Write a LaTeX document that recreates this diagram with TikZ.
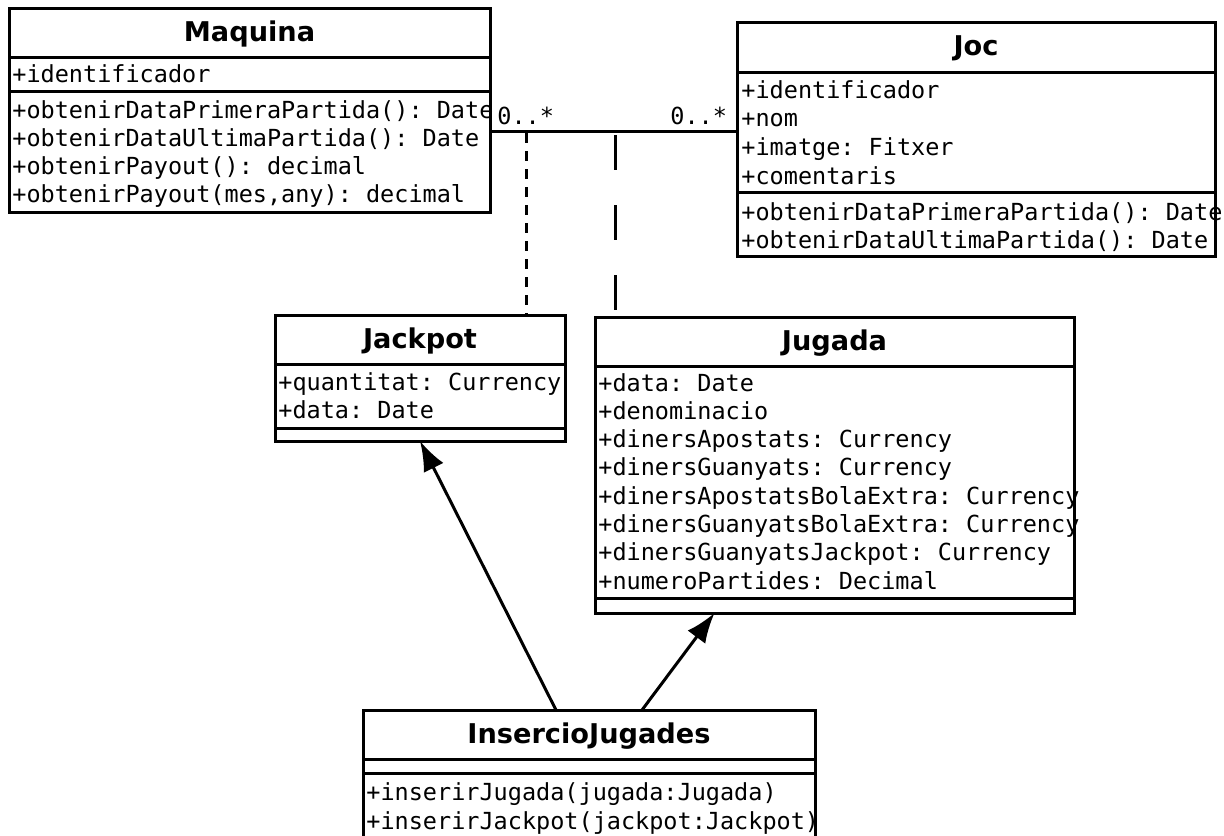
\documentclass[tikz,border=0pt]{standalone}
\usepackage{fontspec}
\setmainfont{DejaVu Sans}
\setmonofont{DejaVu Sans Mono}
\usetikzlibrary{arrows.meta}
\tikzset{
  classbox/.style={draw, line width=1.5pt, anchor=north west, inner sep=0pt, outer sep=0pt},
  classname/.style={anchor=base, inner sep=0pt, font=\bfseries\fontsize{13.6}{16}\selectfont},
  member/.style={anchor=base west, inner sep=0pt, font=\ttfamily\fontsize{11.75}{14}\selectfont},
  compart/.style={line width=1.5pt},
  assoc/.style={line width=1.5pt},
  depline/.style={line width=1.5pt, dash pattern=on 5pt off 4pt},
  longdep/.style={line width=1.5pt, dash pattern=on 17.5pt off 17.5pt},
  uses/.style={line width=1.5pt, -{Latex[length=15pt,width=11pt]}}
}

\begin{document}
\begin{tikzpicture}[x=0.5pt,y=-0.5pt]
  \useasboundingbox (0,0) rectangle (1224,835);
  \clip (0,0) rectangle (1224,835);

  % Maquina
  \node[classbox, minimum width=240.5pt, minimum height=102pt] (maquina) at (9,8) {};
  \node[classname] (maquina-name) at (maquina.north |- 0,41.3) {Maquina};
  \draw[compart] (maquina.west |- 0,57) -- (maquina.east |- 0,57);
  \draw[compart] (maquina.west |- 0,91) -- (maquina.east |- 0,91);
  \node[member] (maquina-a0) at (12,82) {+identificador};
  \foreach \txt [count=\i from 0] in {{+obtenirDataPrimeraPartida(): Date},
      {+obtenirDataUltimaPartida(): Date}, {+obtenirPayout(): decimal},
      {+obtenirPayout(mes,any): decimal}} {
    \node[member] (maquina-m\i) at (12,118+28*\i) {\txt};
  }

  % Joc
  \node[classbox, minimum width=239pt, minimum height=117pt] (joc) at (737,22) {};
  \node[classname] (joc-name) at (joc.north |- 0,55.5) {Joc};
  \draw[compart] (joc.west |- 0,72) -- (joc.east |- 0,72);
  \draw[compart] (joc.west |- 0,192) -- (joc.east |- 0,192);
  \foreach \txt [count=\i from 0] in {+identificador, +nom, {+imatge: Fitxer}, +comentaris} {
    \node[member] (joc-a\i) at (741,98+28.7*\i) {\txt};
  }
  \foreach \txt [count=\i from 0] in {{+obtenirDataPrimeraPartida(): Date},
      {+obtenirDataUltimaPartida(): Date}} {
    \node[member] (joc-m\i) at (741,220+28.5*\i) {\txt};
  }

  % Jackpot
  \node[classbox, minimum width=145pt, minimum height=63pt] (jackpot) at (275,315) {};
  \node[classname] (jackpot-name) at (jackpot.north |- 0,348.5) {Jackpot};
  \draw[compart] (jackpot.west |- 0,364) -- (jackpot.east |- 0,364);
  \draw[compart] (jackpot.west |- 0,428) -- (jackpot.east |- 0,428);
  \foreach \txt [count=\i from 0] in {{+quantitat: Currency}, {+data: Date}} {
    \node[member] (jackpot-a\i) at (278,390+28*\i) {\txt};
  }

  % Jugada
  \node[classbox, minimum width=239.5pt, minimum height=148pt] (jugada) at (595,317) {};
  \node[classname] (jugada-name) at (jugada.north |- 0,350.5) {Jugada};
  \draw[compart] (jugada.west |- 0,366) -- (jugada.east |- 0,366);
  \draw[compart] (jugada.west |- 0,598) -- (jugada.east |- 0,598);
  \foreach \txt [count=\i from 0] in {{+data: Date}, +denominacio,
      {+dinersApostats: Currency}, {+dinersGuanyats: Currency},
      {+dinersApostatsBolaExtra: Currency}, {+dinersGuanyatsBolaExtra: Currency},
      {+dinersGuanyatsJackpot: Currency}, {+numeroPartides: Decimal}} {
    \node[member] (jugada-a\i) at (598,391+28.3*\i) {\txt};
  }

  % InsercioJugades
  \node[classbox, minimum width=226pt, minimum height=80pt] (insercio) at (363,710) {};
  \node[classname] (insercio-name) at (insercio.north |- 0,743.5) {InsercioJugades};
  \draw[compart] (insercio.west |- 0,759) -- (insercio.east |- 0,759);
  \draw[compart] (insercio.west |- 0,773) -- (insercio.east |- 0,773);
  \foreach \txt [count=\i from 0] in {{+inserirJugada(jugada:Jugada)},
      {+inserirJackpot(jackpot:Jackpot)}} {
    \node[member] (insercio-m\i) at (366,800+29*\i) {\txt};
  }

  % association and association classes
  \coordinate (link) at (600,131);
  \coordinate (linkA) at (526,133);
  \coordinate (linkB) at (615,135);
  \draw[assoc] (maquina.east |- link) -- (joc.west |- link);
  \node[member] (mult-l) at (497,124) {0..*};
  \node[member] (mult-r) at (670,124) {0..*};
  \draw[depline] (linkA) -- (jackpot.north -| linkA);
  \draw[longdep] (linkB) -- (jugada.north -| linkB);

  % dependencies
  \draw[uses] ([xshift=-16.5pt]insercio.north) -- (jackpot.south);
  \draw[uses] ([xshift=26.5pt]insercio.north) -- ([xshift=-60pt]jugada.south);
\end{tikzpicture}
\end{document}
